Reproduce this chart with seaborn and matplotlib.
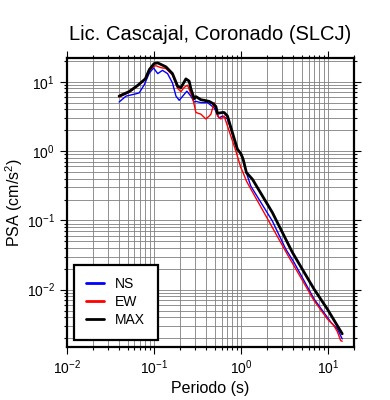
import seaborn as sns
import pandas as pd
import numpy as np
import matplotlib.pyplot as plt

# Spectral acceleration values
ns_period = [0.040, 0.048, 0.0625, 0.068, 0.078, 0.089, 0.0995, 0.111, 0.126, 0.144,
             0.164, 0.180, 0.196, 0.240, 0.267, 0.291, 0.305, 0.348, 0.414, 0.494,
             0.564, 0.615, 0.702, 0.768, 0.801, 0.877, 1.04, 1.19, 1.30, 2.30,
             3.28, 4.08, 6.93, 10.8, 12.8, 14.6]
ns_psa = [5.1, 6.2, 6.7, 6.9, 9.1, 13.4, 15.8, 13.1, 14.6, 13.1,
          9.6, 6.2, 5.4, 7.3, 6.2, 5.1, 5.2, 5.0, 5.0, 4.2,
          3.0, 3.2, 2.9, 2.05, 1.74, 1.18, 0.85, 0.437, 0.313, 0.098,
          0.0385, 0.0248, 0.00735, 0.0034, 0.00272, 0.00195]

ew_period = [0.040, 0.052, 0.065, 0.080, 0.089, 0.101, 0.106, 0.120, 0.138, 0.164,
             0.188, 0.205, 0.224, 0.244, 0.279, 0.305, 0.348, 0.397, 0.433, 0.453,
             0.494, 0.539, 0.590, 0.643, 0.702, 0.768, 0.877, 1.0, 1.043, 1.159,
             1.245, 1.94, 3.58, 4.08, 6.93, 9.84, 11.7, 12.8, 14.0, 14.6]
ew_psa = [6.0, 7.0, 8.6, 10.8, 14.5, 16.8, 17.0, 16.0, 15.5, 12.5,
          8.0, 7.2, 8.3, 8.9, 5.9, 3.6, 3.4, 2.9, 3.2, 3.4,
          5.0, 3.2, 2.9, 3.2, 2.3, 1.64, 1.0, 0.577, 0.515, 0.37,
          0.313, 0.116, 0.0292, 0.0221, 0.00695, 0.00379, 0.00303, 0.0025, 0.00185, 0.0018]

max_period = [0.040, 0.052, 0.065, 0.080, 0.089, 0.101, 0.111, 0.138, 0.164, 0.188,
              0.205, 0.234, 0.255, 0.267, 0.291, 0.305, 0.348, 0.379, 0.433, 0.472,
              0.517, 0.539, 0.615, 0.643, 0.702, 0.801, 0.914, 1.0, 1.063, 1.159,
              1.359, 2.30, 3.91, 6.93, 9.84, 14.6]
max_psa = [6.2, 7.2, 8.8, 11.0, 15.0, 18.3, 18.7, 16.4, 13.1, 8.6,
           8.2, 11.0, 10.2, 7.9, 5.7, 6.1, 5.5, 5.4, 5.2, 4.9,
           4.4, 3.5, 3.6, 3.6, 3.2, 1.84, 1.06, 0.92, 0.76, 0.489,
           0.392, 0.130, 0.0345, 0.0102, 0.00527, 0.00231]

ns = pd.DataFrame({'Periodo': ns_period, 'PSA': ns_psa})
ew = pd.DataFrame({'Periodo': ew_period, 'PSA': ew_psa})
mx = pd.DataFrame({'Periodo': max_period, 'PSA': max_psa})

sns.set_style('ticks')
plt.rcParams['font.family'] = ['Liberation Sans', 'DejaVu Sans']
plt.rcParams['mathtext.fontset'] = 'custom'
plt.rcParams['mathtext.rm'] = 'Liberation Sans'
plt.rcParams['mathtext.it'] = 'Liberation Sans:italic'
plt.rcParams['text.color'] = 'black'
plt.rcParams['axes.labelcolor'] = 'black'
plt.rcParams['xtick.color'] = 'black'
plt.rcParams['ytick.color'] = 'black'

fig = plt.figure(figsize=(3.9, 4.0), dpi=100)
ax = fig.add_axes([0.171, 0.133, 0.737, 0.722])

sns.lineplot(data=ns, x='Periodo', y='PSA', color='blue', lw=1.0, label='NS', ax=ax)
sns.lineplot(data=ew, x='Periodo', y='PSA', color='red', lw=1.0, label='EW', ax=ax)
sns.lineplot(data=mx, x='Periodo', y='PSA', color='black', lw=2.0, label='MAX', ax=ax)

ax.set_xscale('log')
ax.set_yscale('log')
ax.set_xlim(0.01, 20)
ax.set_ylim(0.0015, 22)

ax.grid(True, which='both', color='#7f7f7f', lw=0.6)
ax.set_axisbelow(True)
for s in ax.spines.values():
    s.set_linewidth(1.6)
    s.set_color('black')
ax.tick_params(which='both', direction='out', top=True, right=True, labelsize=10, width=0.8)
ax.tick_params(which='major', length=5)
ax.tick_params(which='minor', length=2.5)

ax.set_title('Lic. Cascajal, Coronado (SLCJ)', fontsize=14.5, pad=13)
ax.set_xlabel('Periodo (s)', fontsize=11.5, labelpad=3)
ax.set_ylabel('PSA (cm/s$^2$)', fontsize=11.5, labelpad=1)

leg = ax.legend(loc='lower left', fontsize=10, fancybox=False, framealpha=1,
                edgecolor='black', handlelength=1.3, handletextpad=0.8, borderpad=0.9,
                labelspacing=0.3, borderaxespad=0.5)
leg.get_frame().set_linewidth(1.6)
for h in leg.get_lines():
    h.set_linewidth(2.0)

fig.savefig('out.png', dpi=100)
